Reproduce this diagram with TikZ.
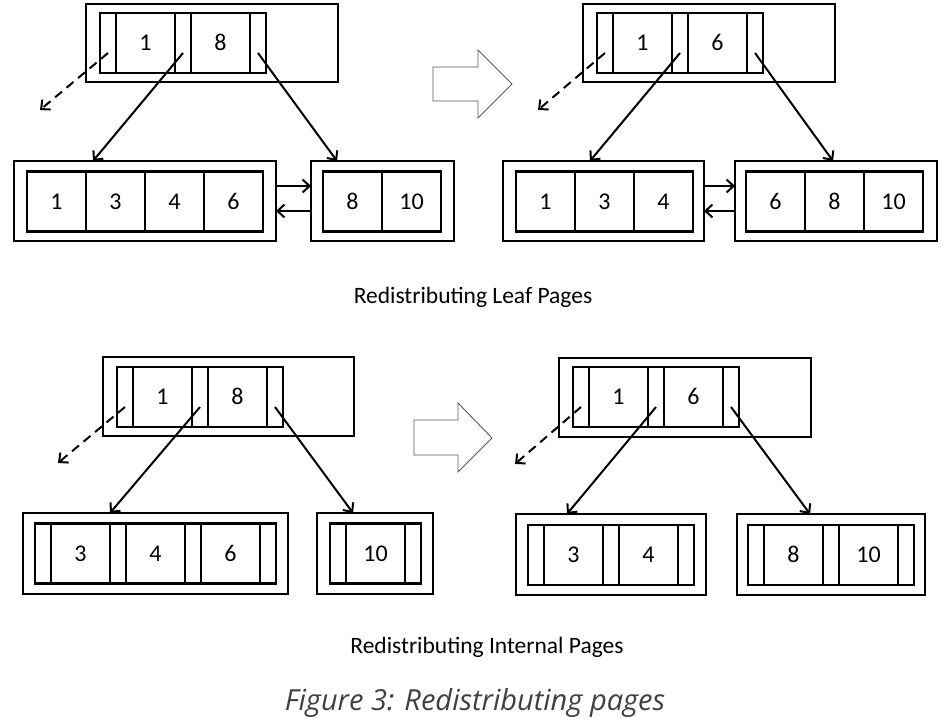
\documentclass[tikz,border=0pt]{standalone}
\usepackage{fontspec}
\setmainfont{Carlito}
\newfontfamily\capfont{Open Sans}
\usepackage{xcolor}
\usepackage{tikz}
\usetikzlibrary{arrows.meta}

\begin{document}
\begin{tikzpicture}[x=1pt, y=-1pt]
	\tikzset{
		page/.style={draw, line width=2.2pt, inner sep=0pt, outer sep=0pt, minimum height=80pt},
		keycell/.style={draw, line width=2.2pt, inner sep=0pt, outer sep=0pt, minimum width=59pt, minimum height=60pt, text height=15pt, text depth=0pt, font=\fontsize{24}{24}\selectfont},
		ptrcell/.style={keycell, minimum width=16pt},
		childptr/.style={draw, line width=2pt, -{Straight Barb[length=7pt, width=13pt]}},
		nullptr/.style={childptr, dash pattern=on 9pt off 6pt},
		bigarrow/.style={draw=black!65, line width=0.9pt},
		pagetitle/.style={font=\fontsize{23.5}{23.5}\selectfont},
		figtitle/.style={font=\capfont\itshape\fontsize{29}{29}\selectfont, text=black!75}
	}
	\useasboundingbox (0,0) rectangle (952,722);
	
	% Leaf pages, before
	\node[page, minimum width=252pt, minimum height=78pt] (laroot) at (212,43) {};
	\node[ptrcell] (lap1) at (108,43) {};
	\node[keycell] (lak1) at (145.5,43) {1};
	\node[ptrcell] (lap2) at (183,43) {};
	\node[keycell] (lak2) at (220.5,43) {8};
	\node[ptrcell] (lap3) at (258,43) {};
	
	\node[page, minimum width=262pt] (laleft) at (145,201) {};
	\node[keycell] (lal1) at (56.5,201.5) {1};
	\node[keycell] (lal2) at (115.5,201.5) {3};
	\node[keycell] (lal3) at (174.5,201.5) {4};
	\node[keycell] (lal4) at (233.5,201.5) {6};
	
	\node[page, minimum width=143pt] (laright) at (382.5,201) {};
	\node[keycell] (lar1) at (352.5,201.5) {8};
	\node[keycell] (lar2) at (411.5,201.5) {10};
	
	\coordinate (lanull) at (40,110);
	\draw[nullptr] ([yshift=-10pt]lap1.center) -- (lanull);
	\draw[childptr] ([yshift=-10pt]lap2.center) -- ([xshift=79pt]laleft.north west);
	\draw[childptr] ([yshift=-10pt]lap3.center) -- ([xshift=26pt]laright.north west);
	\draw[childptr] ([yshift=15pt]laleft.east) -- ([yshift=15pt]laright.west);
	\draw[childptr] ([yshift=-10pt]laright.west) -- ([yshift=-10pt]laleft.east);
	
	% Leaf pages, after
	\node[page, minimum width=252pt, minimum height=78pt] (lbroot) at (709,43) {};
	\node[ptrcell] (lbp1) at (605,43) {};
	\node[keycell] (lbk1) at (642.5,43) {1};
	\node[ptrcell] (lbp2) at (680,43) {};
	\node[keycell] (lbk2) at (717.5,43) {6};
	\node[ptrcell] (lbp3) at (755,43) {};
	
	\node[page, minimum width=201pt] (lbleft) at (603.5,201) {};
	\node[keycell] (lbl1) at (545.5,201.5) {1};
	\node[keycell] (lbl2) at (604.5,201.5) {3};
	\node[keycell] (lbl3) at (663.5,201.5) {4};
	
	\node[page, minimum width=202pt] (lbright) at (836,201) {};
	\node[keycell] (lbr1) at (775.5,201.5) {6};
	\node[keycell] (lbr2) at (834.5,201.5) {8};
	\node[keycell] (lbr3) at (893.5,201.5) {10};
	
	\coordinate (lbnull) at (538,110);
	\draw[nullptr] ([yshift=-10pt]lbp1.center) -- (lbnull);
	\draw[childptr] ([yshift=-10pt]lbp2.center) -- ([xshift=87pt]lbleft.north west);
	\draw[childptr] ([yshift=-10pt]lbp3.center) -- ([xshift=98pt]lbright.north west);
	\draw[childptr] ([yshift=15pt]lbleft.east) -- ([yshift=15pt]lbright.west);
	\draw[childptr] ([yshift=-10pt]lbright.west) -- ([yshift=-10pt]lbleft.east);
	
	% Internal pages, before
	\node[page, minimum width=251pt, minimum height=79pt] (iaroot) at (228.5,396.5) {};
	\node[ptrcell] (iap1) at (125,397) {};
	\node[keycell] (iak1) at (162.5,397) {1};
	\node[ptrcell] (iap2) at (200,397) {};
	\node[keycell] (iak2) at (237.5,397) {8};
	\node[ptrcell] (iap3) at (275,397) {};
	
	\node[page, minimum width=265pt, minimum height=81pt] (ialeft) at (155.5,553.5) {};
	\node[ptrcell] (ialp1) at (43,553.5) {};
	\node[keycell] (ialk1) at (80.5,553.5) {3};
	\node[ptrcell] (ialp2) at (118,553.5) {};
	\node[keycell] (ialk2) at (155.5,553.5) {4};
	\node[ptrcell] (ialp3) at (193,553.5) {};
	\node[keycell] (ialk3) at (230.5,553.5) {6};
	\node[ptrcell] (ialp4) at (268,553.5) {};
	
	\node[page, minimum width=116pt, minimum height=81pt] (iaright) at (375,553.5) {};
	\node[ptrcell] (iarp1) at (338,553.5) {};
	\node[keycell] (iark1) at (375.5,553.5) {10};
	\node[ptrcell] (iarp2) at (413,553.5) {};
	
	\coordinate (ianull) at (58,463);
	\draw[nullptr] ([yshift=-10pt]iap1.center) -- (ianull);
	\draw[childptr] ([yshift=-10pt]iap2.center) -- ([xshift=87pt]ialeft.north west);
	\draw[childptr] ([yshift=-10pt]iap3.center) -- ([xshift=36pt]iaright.north west);
	
	% Internal pages, after
	\node[page, minimum width=252pt, minimum height=79pt] (ibroot) at (685,397.5) {};
	\node[ptrcell] (ibp1) at (581,397) {};
	\node[keycell] (ibk1) at (618.5,397) {1};
	\node[ptrcell] (ibp2) at (656,397) {};
	\node[keycell] (ibk2) at (693.5,397) {6};
	\node[ptrcell] (ibp3) at (731,397) {};
	
	\node[page, minimum width=190pt, minimum height=81pt] (ibleft) at (611,554.5) {};
	\node[ptrcell] (iblp1) at (536,555) {};
	\node[keycell] (iblk1) at (573.5,555) {3};
	\node[ptrcell] (iblp2) at (611,555) {};
	\node[keycell] (iblk2) at (648.5,555) {4};
	\node[ptrcell] (iblp3) at (686,555) {};
	
	\node[page, minimum width=188pt, minimum height=81pt] (ibright) at (831,554.5) {};
	\node[ptrcell] (ibrp1) at (756,555) {};
	\node[keycell] (ibrk1) at (793.5,555) {8};
	\node[ptrcell] (ibrp2) at (831,555) {};
	\node[keycell] (ibrk2) at (868.5,555) {10};
	\node[ptrcell] (ibrp3) at (906,555) {};
	
	\coordinate (ibnull) at (515,464);
	\draw[nullptr] ([yshift=-10pt]ibp1.center) -- (ibnull);
	\draw[childptr] ([yshift=-10pt]ibp2.center) -- ([xshift=51pt]ibleft.north west);
	\draw[childptr] ([yshift=-10pt]ibp3.center) -- ([xshift=73pt]ibright.north west);
	
	% Before -> after
	\draw[bigarrow] (433,67) -- (478,67) -- (478,50) -- (512,84) -- (478,118) -- (478,101) -- (433,101) -- cycle;
	\draw[bigarrow] (414,420) -- (458,420) -- (458,403) -- (492,438) -- (458,472) -- (458,455) -- (414,455) -- cycle;
	
	% Titles
	\node[pagetitle] (leaftitle) at (473,297) {Redistributing Leaf Pages};
	\node[pagetitle] (inttitle) at (487,647) {Redistributing Internal Pages};
	\node[figtitle] (fig) at (475,703) {Figure 3: Redistributing pages};
\end{tikzpicture}
\end{document}
